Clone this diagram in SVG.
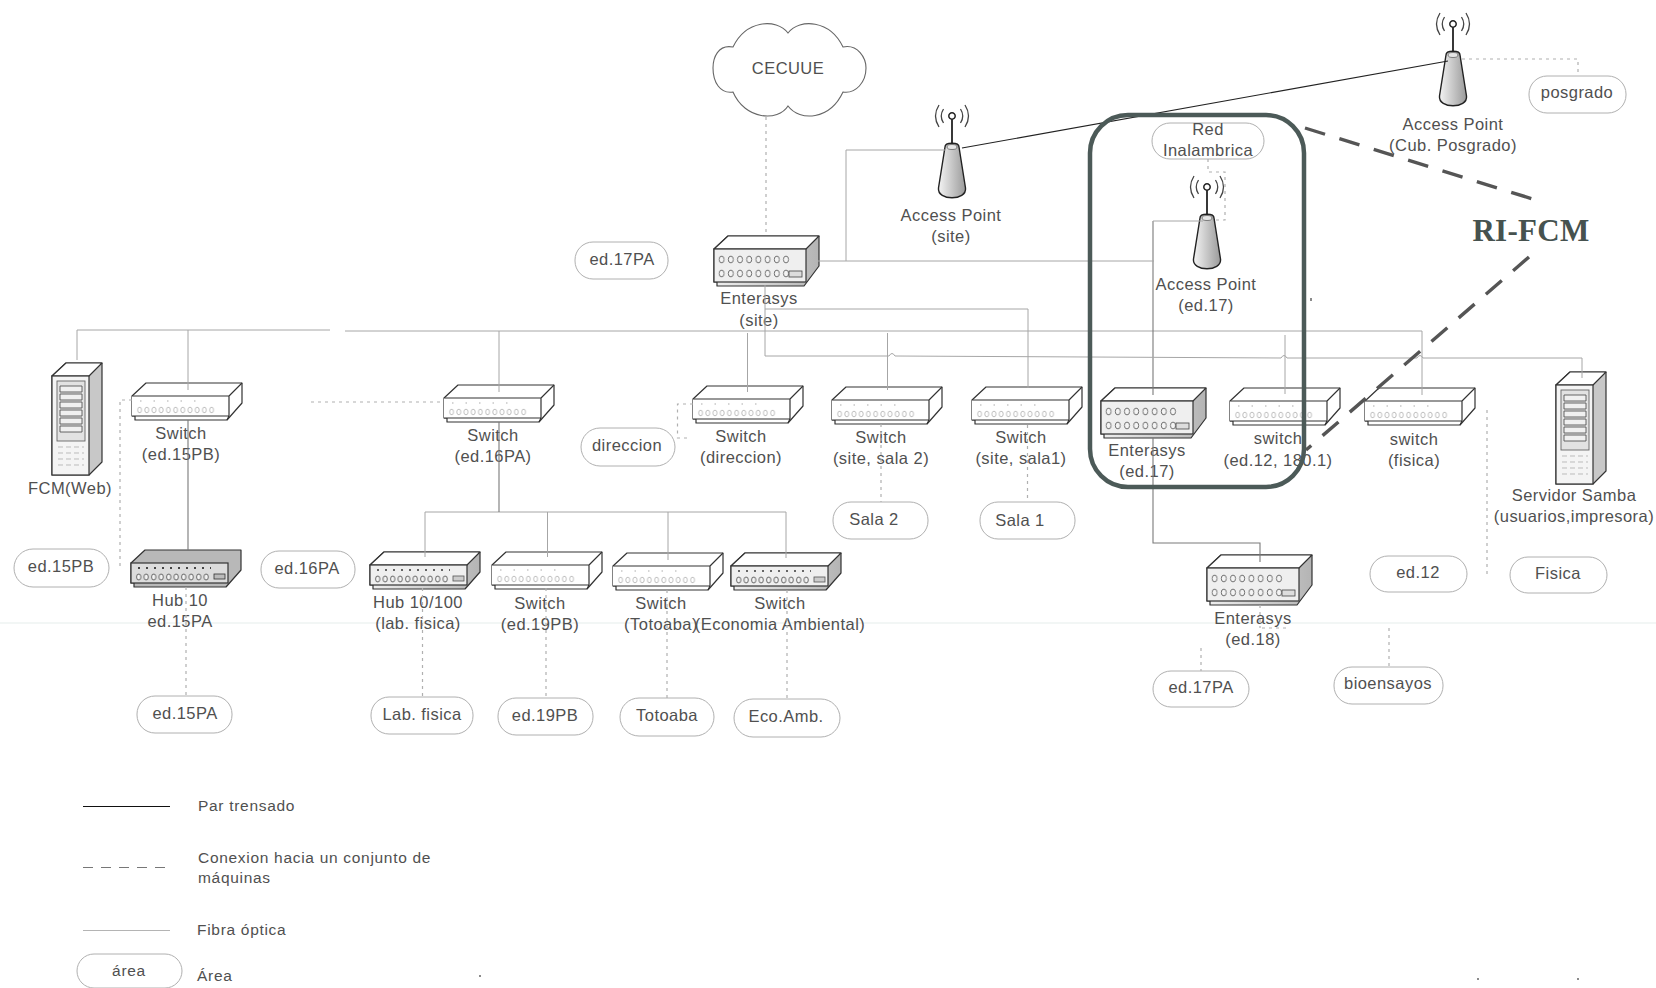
<svg xmlns="http://www.w3.org/2000/svg" width="1656" height="988" viewBox="0 0 1656 988">
<style>
text{font-family:"Liberation Sans",Arial,sans-serif;font-size:16.500px;fill:#505050;letter-spacing:.45px}
.m{text-anchor:middle}
.leg{font-size:15.500px;letter-spacing:.7px}
.rf{font-family:"Liberation Serif","Times New Roman",serif;font-weight:bold;font-size:31px;fill:#46524f;letter-spacing:.3px}
.pill{fill:#fff;stroke:#b0b0b0;stroke-width:1}
.box{stroke:#333;stroke-width:1.200;stroke-linejoin:round;fill:#fff}
.fib{fill:none;stroke:#a6a6a6;stroke-width:1}
.dk{fill:none;stroke:#7a7a7a;stroke-width:1.100}
.dot{fill:none;stroke:#b0b0b0;stroke-width:1.200;stroke-dasharray:3 4}
.tw{fill:none;stroke:#222;stroke-width:1.100}
.thk{fill:none;stroke:#555;stroke-width:3.400;stroke-dasharray:21 15}
</style>
<defs>
<linearGradient id="cone" x1="0" x2="1" y1="0" y2="0"><stop offset="0" stop-color="#f4f4f4"/><stop offset="1" stop-color="#9a9a9a"/></linearGradient>
<linearGradient id="side" x1="0" x2="1" y1="0" y2="0"><stop offset="0" stop-color="#efefef"/><stop offset="1" stop-color="#b4b4b4"/></linearGradient>
<pattern id="pl" width="7.200" height="8" patternUnits="userSpaceOnUse"><ellipse cx="3.600" cy="4" rx="2" ry="2.800" fill="#fff" stroke="#b0b0b0" stroke-width=".8"/></pattern>
<pattern id="pd" width="7.500" height="8" patternUnits="userSpaceOnUse"><ellipse cx="3.700" cy="4" rx="2.200" ry="3" fill="#f4f4f4" stroke="#555" stroke-width=".9"/></pattern>
<pattern id="pe" width="9.200" height="9" patternUnits="userSpaceOnUse"><ellipse cx="4.600" cy="4.500" rx="2.500" ry="3.400" fill="#f4f4f4" stroke="#666" stroke-width=".9"/></pattern>
<g id="sw">
<path class="box" d="M0 13L14 0H110V20L95 37H3V33H0Z"/>
<path class="box" fill="none" d="M0 13H97V33H0M97 13L110 0M97 33L95 37"/>
<rect transform="translate(4 23)" width="79.200" height="8" fill="url(#pl)"/>
<path d="M8 18H72" stroke="#c8c8c8" stroke-width="1.500" stroke-dasharray="1.500 12" fill="none"/>
</g>
<g id="hub">
<path class="box" style="fill:url(#side)" d="M0 13L14 0H110V20L95 37H3V33H0Z"/>
<path class="box" style="fill:#fff" d="M0 13L14 0H110L97 13Z"/>
<rect x="0" y="13" width="97" height="20" fill="#efefef" stroke="#333" stroke-width="1.200"/>
<rect transform="translate(4 23)" width="75" height="8" fill="url(#pd)"/>
<path d="M7 18H80" stroke="#666" stroke-width="2" stroke-dasharray="2 6" fill="none"/>
<rect x="83" y="24" width="11" height="5" fill="#ccc" stroke="#555" stroke-width=".8"/>
</g>
<g id="hubd">
<path class="box" style="fill:#b8b8b8" d="M0 13L14 0H110V20L95 37H3V33H0Z"/>
<rect x="0" y="13" width="97" height="20" fill="#dcdcdc" stroke="#333" stroke-width="1.200"/>
<rect transform="translate(4 23)" width="75" height="8" fill="url(#pd)"/>
<path d="M7 18H80" stroke="#444" stroke-width="2" stroke-dasharray="2 6" fill="none"/>
<rect x="83" y="24" width="11" height="5" fill="#bbb" stroke="#333" stroke-width=".8"/>
</g>
<g id="ent">
<path class="box" style="fill:url(#side)" d="M0 13L14 0H105V30L90 50H3V46H0Z"/>
<path class="box" style="fill:#fff" d="M0 13L14 0H105L92 13Z"/>
<rect x="0" y="13" width="92" height="33" fill="#efefef" stroke="#333" stroke-width="1.200"/>
<rect transform="translate(3 19)" width="73.600" height="9" fill="url(#pe)"/>
<rect transform="translate(3 33)" width="73.600" height="9" fill="url(#pe)"/>
<rect x="75" y="35" width="13" height="6" fill="#ddd" stroke="#444" stroke-width=".8"/>
</g>
<g id="srv">
<path class="box" style="fill:#c8c8c8" d="M0 13L14 0H50V99L37 112H0Z"/>
<path class="box" style="fill:#fff" d="M0 13L14 0H50L37 13Z"/>
<rect x="0" y="13" width="37" height="99" fill="#f4f4f4" stroke="#333" stroke-width="1.200"/>
<rect x="5" y="18" width="28" height="60" fill="#e2e2e2" stroke="#666" stroke-width=".9"/>
<path d="M8 23h22v6H8zM8 31h22v6H8zM8 39h22v6H8zM8 47h22v6H8zM8 55h22v6H8zM8 63h22v6H8z" fill="#f0f0f0" stroke="#555" stroke-width=".9"/>
<path d="M6 84H32M6 90H32M6 96H32M6 102H32" stroke="#bbb" stroke-width="1" stroke-dasharray="5 3" fill="none"/>
</g>
<g id="ap">
<g fill="none" stroke="#444" stroke-width="1.300">
<path d="M-8.500 -7Q-13 0 -8.500 7M8.500 -7Q13 0 8.500 7M-13 -11Q-20 0 -13 11M13 -11Q20 0 13 11"/>
</g>
<path d="M0 3V28" stroke="#222" stroke-width="1.800"/>
<circle r="3.200" fill="#fff" stroke="#222" stroke-width="1.500"/>
<path d="M-7 31C-7 26 7 26 7 31L13.500 72C15 85 -15 85 -13.500 72Z" fill="url(#cone)" stroke="#222" stroke-width="1.400"/>
<ellipse cy="31" rx="5" ry="2.500" fill="#e6e6e6" stroke="#555" stroke-width=".7"/>
</g>
</defs>
<rect width="1656" height="988" fill="#fff"/>
<path d="M0 623H1656" stroke="#eef3f2" stroke-width="1.500"/>
<g id="n-cecuue"><path d="M788 33C776 18 746 20 733 47C718 44 713 58 713 68C713 82 720 94 733 92C745 120 778 122 788 106C800 122 830 120 843 92C856 94 866 82 866 68C866 58 858 44 843 47C830 20 800 18 788 33Z" fill="#fff" stroke="#666" stroke-width="1.100"/><text class="m" x="788" y="74">CECUUE</text></g>
<g id="n-ap-site"><use href="#ap" x="952" y="116"/><text class="m" x="951" y="221">Access Point</text><text class="m" x="951" y="242">(site)</text></g>
<g id="n-ap-pos"><use href="#ap" x="1453" y="24"/><text class="m" x="1453" y="130">Access Point</text><text class="m" x="1453" y="151">(Cub. Posgrado)</text></g>
<g id="n-posgrado"><rect class="pill" x="1529" y="76" width="97" height="37" rx="18"/><text class="m" x="1577" y="98">posgrado</text></g>
<g id="n-red"><rect class="pill" x="1152" y="123" width="112" height="36" rx="18"/><text class="m" x="1208" y="135">Red</text><text class="m" x="1208" y="156">Inalambrica</text></g>
<g id="n-ap-17"><use href="#ap" x="1207" y="187"/><text class="m" x="1206" y="290">Access Point</text><text class="m" x="1206" y="311">(ed.17)</text></g>
<g id="n-rifcm"><text class="rf m" x="1531" y="241">RI-FCM</text></g>
<g id="n-a17-top"><rect class="pill" x="575" y="242" width="93" height="37" rx="18"/><text class="m" x="622" y="265">ed.17PA</text></g>
<g id="n-ent-site"><use href="#ent" x="714" y="236"/><text class="m" x="759" y="304">Enterasys</text><text class="m" x="759" y="326">(site)</text></g>
<g id="n-fcm"><use href="#srv" x="52" y="363"/><text class="m" x="70" y="494">FCM(Web)</text></g>
<g id="n-sw15"><use href="#sw" x="132" y="383"/><text class="m" x="181" y="439">Switch</text><text class="m" x="181" y="460">(ed.15PB)</text></g>
<g id="n-sw16"><use href="#sw" x="444" y="385"/><text class="m" x="493" y="441">Switch</text><text class="m" x="493" y="462">(ed.16PA)</text></g>
<g id="n-swdir"><use href="#sw" x="693" y="386"/><text class="m" x="741" y="442">Switch</text><text class="m" x="741" y="463">(direccion)</text></g>
<g id="n-sw2"><use href="#sw" x="832" y="387"/><text class="m" x="881" y="443">Switch</text><text class="m" x="881" y="464">(site, sala 2)</text></g>
<g id="n-sw1"><use href="#sw" x="972" y="387"/><text class="m" x="1021" y="443">Switch</text><text class="m" x="1021" y="464">(site, sala1)</text></g>
<g id="n-ent17"><use href="#ent" x="1101" y="388"/><text class="m" x="1147" y="456">Enterasys</text><text class="m" x="1147" y="477">(ed.17)</text></g>
<g id="n-sw12"><use href="#sw" x="1230" y="388"/><text class="m" x="1278" y="444">switch</text><text class="m" x="1278" y="466">(ed.12, 180.1)</text></g>
<g id="n-swf"><use href="#sw" x="1365" y="388"/><text class="m" x="1414" y="445">switch</text><text class="m" x="1414" y="466">(fisica)</text></g>
<g id="n-samba"><use href="#srv" x="1556" y="372"/><text class="m" x="1574" y="501">Servidor Samba</text><text class="m" x="1574" y="522">(usuarios,impresora)</text></g>
<g id="n-dir"><rect class="pill" x="581" y="428" width="94" height="38" rx="19"/><text class="m" x="627" y="451">direccion</text></g>
<g id="n-s2"><rect class="pill" x="833" y="502" width="95" height="37" rx="18"/><text class="m" x="874" y="525">Sala 2</text></g>
<g id="n-s1"><rect class="pill" x="980" y="502" width="95" height="37" rx="18"/><text class="m" x="1020" y="526">Sala 1</text></g>
<g id="n-a15b"><rect class="pill" x="14" y="549" width="95" height="38" rx="19"/><text class="m" x="61" y="572">ed.15PB</text></g>
<g id="n-hub10"><use href="#hubd" x="131" y="550"/><text class="m" x="180" y="606">Hub 10</text><text class="m" x="180" y="627">ed.15PA</text></g>
<g id="n-a16"><rect class="pill" x="261" y="551" width="94" height="37" rx="18"/><text class="m" x="307" y="574">ed.16PA</text></g>
<g id="n-hub100"><use href="#hub" x="370" y="552"/><text class="m" x="418" y="608">Hub 10/100</text><text class="m" x="418" y="629">(lab. fisica)</text></g>
<g id="n-sw19"><use href="#sw" x="492" y="552"/><text class="m" x="540" y="609">Switch</text><text class="m" x="540" y="630">(ed.19PB)</text></g>
<g id="n-swt"><use href="#sw" x="613" y="553"/><text class="m" x="661" y="609">Switch</text><text class="m" x="661" y="630">(Totoaba)</text></g>
<g id="n-swe"><use href="#hub" x="731" y="553"/><text class="m" x="780" y="609">Switch</text><text class="m" x="780" y="630">(Economia Ambiental)</text></g>
<g id="n-ent18"><use href="#ent" x="1207" y="555"/><text class="m" x="1253" y="624">Enterasys</text><text class="m" x="1253" y="645">(ed.18)</text></g>
<g id="n-a12"><rect class="pill" x="1370" y="556" width="97" height="36" rx="18"/><text class="m" x="1418" y="578">ed.12</text></g>
<g id="n-afis"><rect class="pill" x="1510" y="557" width="97" height="36" rx="18"/><text class="m" x="1558" y="579">Fisica</text></g>
<g id="n-a17"><rect class="pill" x="1153" y="671" width="96" height="36" rx="18"/><text class="m" x="1201" y="693">ed.17PA</text></g>
<g id="n-bio"><rect class="pill" x="1334" y="667" width="109" height="37" rx="18"/><text class="m" x="1388" y="689">bioensayos</text></g>
<g id="n-a15a"><rect class="pill" x="137" y="696" width="95" height="37" rx="18"/><text class="m" x="185" y="719">ed.15PA</text></g>
<g id="n-lab"><rect class="pill" x="371" y="697" width="102" height="37" rx="18"/><text class="m" x="422" y="720">Lab. fisica</text></g>
<g id="n-a19"><rect class="pill" x="498" y="698" width="95" height="37" rx="18"/><text class="m" x="545" y="721">ed.19PB</text></g>
<g id="n-tot"><rect class="pill" x="620" y="698" width="94" height="38" rx="19"/><text class="m" x="667" y="721">Totoaba</text></g>
<g id="n-eco"><rect class="pill" x="734" y="699" width="106" height="38" rx="19"/><text class="m" x="786" y="722">Eco.Amb.</text></g>
<g id="connectors">
<path class="fib" d="M77 360V330H330M345 331H1422V395"/>
<path class="fib" d="M188 330V390M499 331V392M425 557V512H786V558M547.500 512V557M668 512V560M747.500 333V392M887.500 333V390M1028 309V388M765 309H1028M1285 335V394"/>
<path class="dk" d="M188 420V550M499 422V512M1153 221V395M1153 438V543H1260V562"/>
<path class="fib" d="M818 261H1154M846 261V150H945M1153 221H1203"/>
<path class="fib" d="M765 285V356H889q3-5 6 0L1281 358q3-5 6 0H1417q3-5 6 0H1582V378"/>
<path class="dot" d="M766 117V236M1462 59H1578V76M1208 159V172H1225V220H1212M132 400H120V568M311 402H444M186 587V696M422.500 588V697M546 588V698M667 590V698M787 590V699M693 404H677.500V438H687M881 424V502M1027.500 425V502M1487 410V575M1389 628V667M1201 648V671M1260 605V628M1262 628H1289"/>
<path class="tw" d="M962 148L1448 61"/>
<path class="thk" d="M1305 128L1536 200"/>
<path class="thk" d="M1529 257L1306 450"/>
</g>
<rect id="ring" x="1090" y="115" width="214" height="372" rx="38" fill="none" stroke="#4c5a58" stroke-width="4.500"/>
<g id="legend">
<path d="M83 806.500H170" stroke="#111" stroke-width="1.200"/>
<path d="M83 867.500H170" stroke="#777" stroke-width="1.100" stroke-dasharray="10 8"/>
<path d="M83 930.500H170" stroke="#b4b4b4" stroke-width="1.100"/>
<text class="leg" x="198" y="811">Par trensado</text>
<text class="leg" x="198" y="863">Conexion hacia un conjunto de</text>
<text class="leg" x="198" y="883">máquinas</text>
<text class="leg" x="197" y="935">Fibra óptica</text>
<rect class="pill" x="77" y="954" width="105" height="34" rx="17"/>
<text class="leg m" x="129" y="976">área</text>
<text class="leg" x="197" y="981">Área</text>
</g>
<path d="M1311 298v3M480 975v2M1478 978v2M1578 978v2" stroke="#666" stroke-width="1.500"/>
</svg>
